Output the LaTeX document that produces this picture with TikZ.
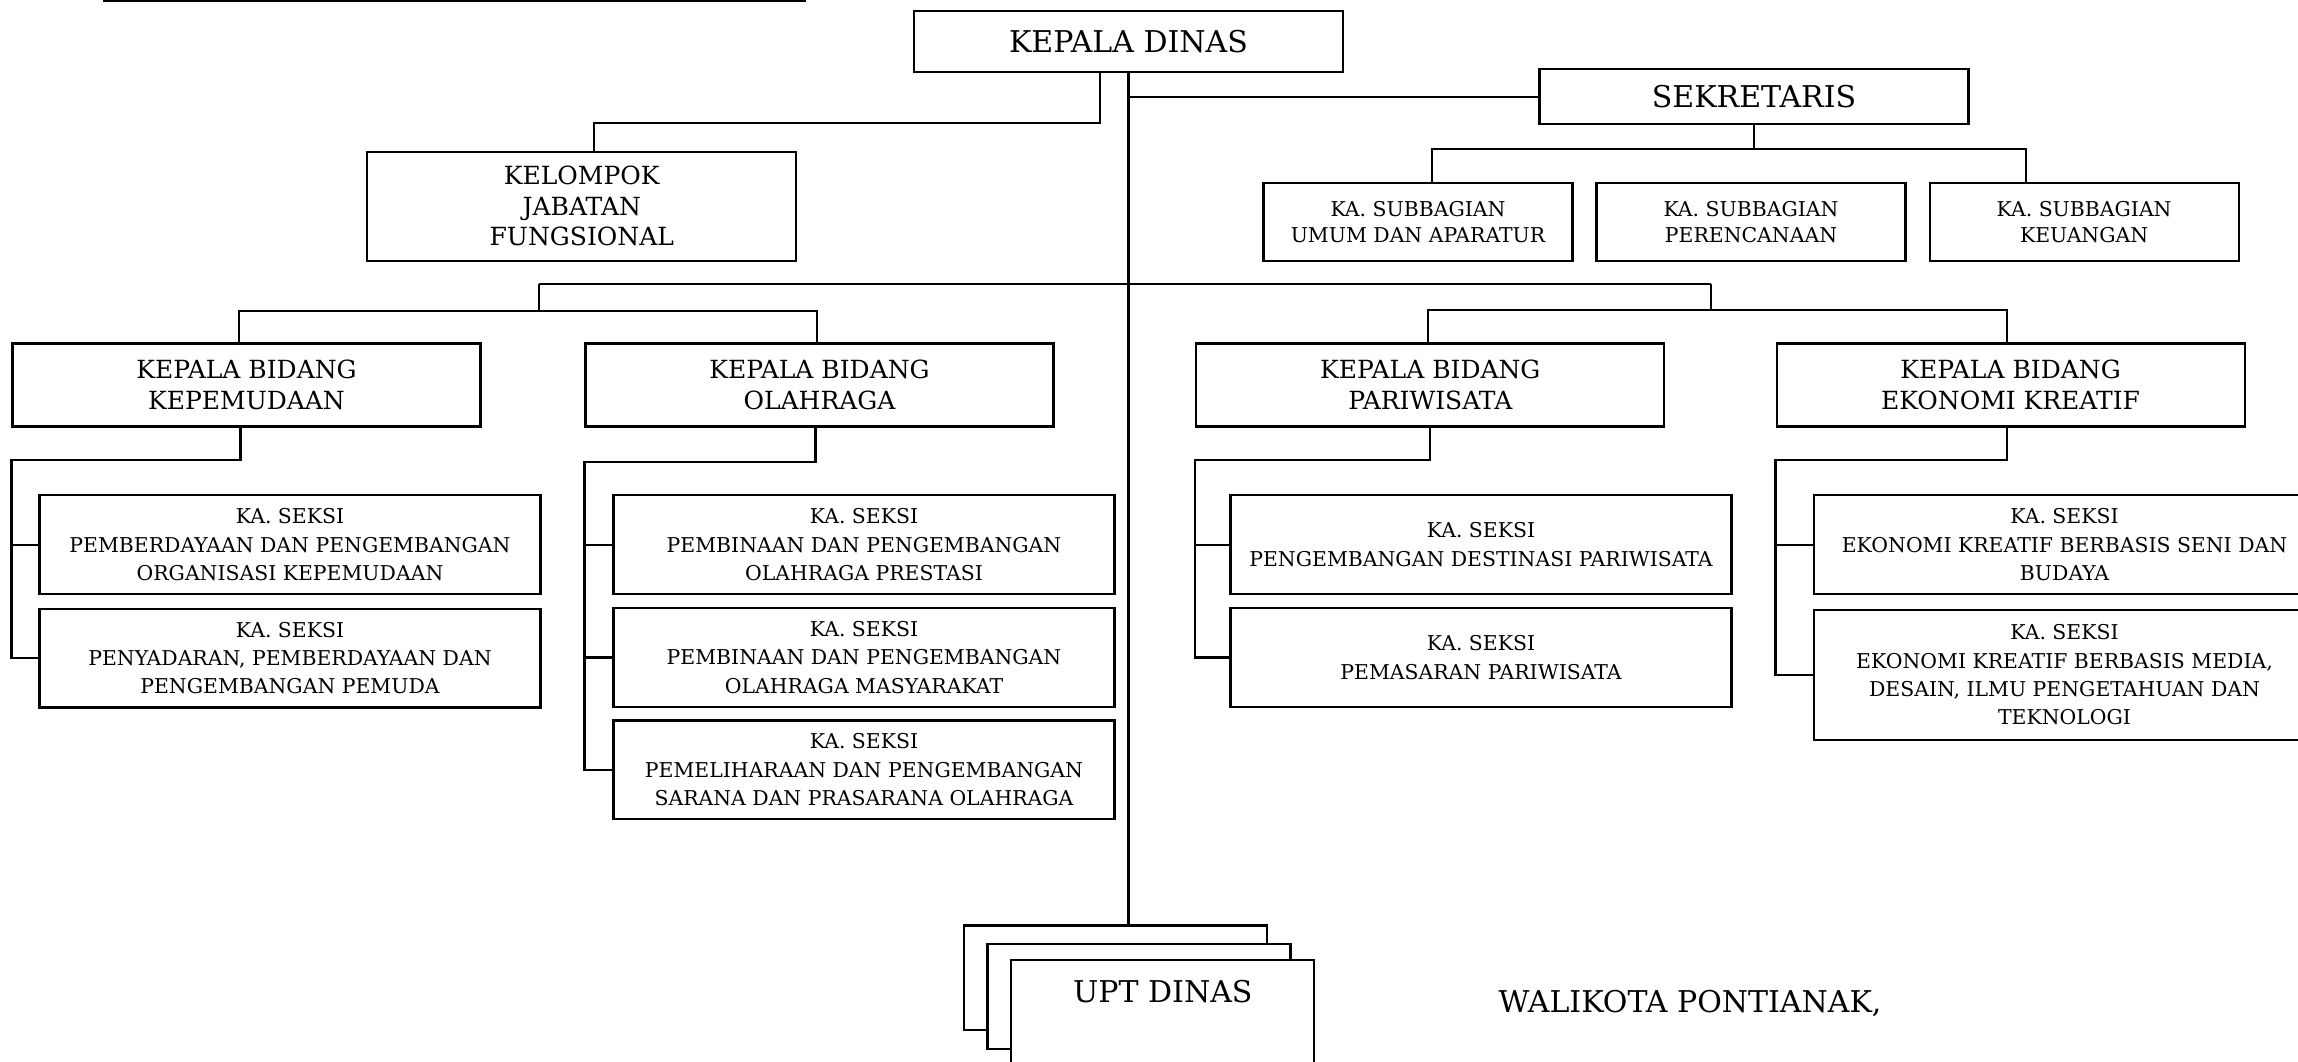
\documentclass[tikz,border=0pt]{standalone}
\usepackage{fontspec}
\setmainfont{DejaVu Serif}
\tikzset{
    orgbox/.style = {
        shape=rectangle,
        draw,
        line width=1.1pt,
        align=center,
        inner sep=0pt},
    headbox/.style = {
        orgbox,
        minimum width=214.5pt,
        font=\fontsize{15}{18}\selectfont},
    fieldbox/.style = {
        orgbox,
        minimum width=234pt,
        minimum height=41.5pt,
        font=\fontsize{12.5}{15.2}\selectfont},
    subbox/.style = {
        orgbox,
        minimum width=154.5pt,
        minimum height=38.85pt,
        font=\fontsize{10.2}{12.85}\selectfont},
    sectbox/.style = {
        orgbox,
        minimum width=250.5pt,
        minimum height=49.25pt,
        font=\fontsize{10.2}{14.15}\selectfont},
    uptbox/.style = {
        orgbox,
        fill=white,
        minimum width=151.5pt,
        minimum height=52.25pt,
        font=\fontsize{15}{18}\selectfont}
}

\begin{document}
\begin{tikzpicture}[
    x                = 0.5pt,
    y                = -0.5pt,
    link/.style      = {draw, line width=1.1pt}
]
\useasboundingbox (0,0) rectangle (2298,1061);

\draw[line width=1.1pt] (103,1) -- (806,1);

\node [headbox, minimum height=30.5pt] (kadis) at (1128.5,41.5) {KEPALA DINAS};
\node [headbox, minimum height=27.65pt] (sekr) at (1754,96.65) {SEKRETARIS};
\node [headbox, minimum height=54.65pt, font=\fontsize{12.5}{15.25}\selectfont] (kjf) at (581.75,206.35)
    {KELOMPOK\\JABATAN\\FUNGSIONAL};

\node [subbox] (sub1) at (1418,222.15) {KA. SUBBAGIAN\\UMUM DAN APARATUR};
\node [subbox] (sub2) at (1751,222.15) {KA. SUBBAGIAN\\PERENCANAAN};
\node [subbox] (sub3) at (2084.1,222.15) {KA. SUBBAGIAN\\KEUANGAN};

\node [fieldbox] (kb1) at (246.5,385) {KEPALA BIDANG\\KEPEMUDAAN};
\node [fieldbox] (kb2) at (819.5,385) {KEPALA BIDANG\\OLAHRAGA};
\node [fieldbox] (kb3) at (1430.3,385) {KEPALA BIDANG\\PARIWISATA};
\node [fieldbox] (kb4) at (2010.6,385) {KEPALA BIDANG\\EKONOMI KREATIF};

\node [sectbox] (ks11) at (290,544.6)
    {KA. SEKSI\\PEMBERDAYAAN DAN PENGEMBANGAN\\ORGANISASI KEPEMUDAAN};
\node [sectbox] (ks12) at (290,658.2)
    {KA. SEKSI\\PENYADARAN, PEMBERDAYAAN DAN\\PENGEMBANGAN PEMUDA};

\node [sectbox] (ks21) at (864,544.6)
    {KA. SEKSI\\PEMBINAAN DAN PENGEMBANGAN\\OLAHRAGA PRESTASI};
\node [sectbox] (ks22) at (864,657.5)
    {KA. SEKSI\\PEMBINAAN DAN PENGEMBANGAN\\OLAHRAGA MASYARAKAT};
\node [sectbox] (ks23) at (864,769.8)
    {KA. SEKSI\\PEMELIHARAAN DAN PENGEMBANGAN\\SARANA DAN PRASARANA OLAHRAGA};

\node [sectbox] (ks31) at (1481,544.6)
    {KA. SEKSI\\PENGEMBANGAN DESTINASI PARIWISATA};
\node [sectbox] (ks32) at (1481,657.5)
    {KA. SEKSI\\PEMASARAN PARIWISATA};

\node [sectbox] (ks41) at (2064.5,544.6)
    {KA. SEKSI\\EKONOMI KREATIF BERBASIS SENI DAN\\BUDAYA};
\node [sectbox, minimum height=65pt] (ks42) at (2064.5,675)
    {KA. SEKSI\\EKONOMI KREATIF BERBASIS MEDIA,\\DESAIN, ILMU PENGETAHUAN DAN\\TEKNOLOGI};

\node [uptbox] (upt1) at (1115.8,977.8) {};
\node [uptbox] (upt2) at (1139,996.6) {};
\node [uptbox] (upt3) at (1162.8,1012.3) {UPT DINAS\\[3pt]\mbox{}};

\node [font=\fontsize{15}{18}\selectfont] (walikota) at (1690,1003.7) {WALIKOTA PONTIANAK,};

\coordinate (bidL) at (539,284.3);
\coordinate (bidR) at (1710.8,284.3);

\draw[link] (kadis.south) -- (kadis.south |- upt1.north);
\draw[link] ([xshift=-14.25pt]kadis.south) -- ++(0,49.7) coordinate (kjfbar)
    -| ([xshift=6.1pt]kjf.north);
\draw[link] (kadis.south |- sekr.west) -- (sekr.west);

\draw[link] (sekr.south) -- ++(0,23.4) coordinate (subbar);
\draw[link] ([xshift=6.9pt]sub1.north) |- (subbar) -| ([xshift=-29.25pt]sub3.north);

\draw[link] (bidL) -- (bidR);
\draw[link] (bidL) -- ++(0,26.7) coordinate (bidLbar);
\draw[link] ([xshift=-3.75pt]kb1.north) |- (bidLbar) -| ([xshift=-1.25pt]kb2.north);
\draw[link] (bidR) -- ++(0,25.7) coordinate (bidRbar);
\draw[link] ([xshift=-1.15pt]kb3.north) |- (bidRbar) -| ([xshift=-2pt]kb4.north);

\draw[link] ([xshift=-3pt]kb1.south) -- ++(0,32) -| (kb1.west |- ks12.west) -- (ks12.west);
\draw[link] (kb1.west |- ks11.west) -- (ks11.west);

\draw[link] ([xshift=-2pt]kb2.south) -- ++(0,34) -| (kb2.west |- ks23.west) -- (ks23.west);
\draw[link] (kb2.west |- ks21.west) -- (ks21.west);
\draw[link] (kb2.west |- ks22.west) -- (ks22.west);

\draw[link] (kb3.south) -- ++(0,32) -| (kb3.west |- ks32.west) -- (ks32.west);
\draw[link] (kb3.west |- ks31.west) -- (ks31.west);

\draw[link] ([xshift=-2pt]kb4.south) -- ++(0,32) -| (kb4.west |- ks42.west) -- (ks42.west);
\draw[link] (kb4.west |- ks41.west) -- (ks41.west);

\end{tikzpicture}
\end{document}
